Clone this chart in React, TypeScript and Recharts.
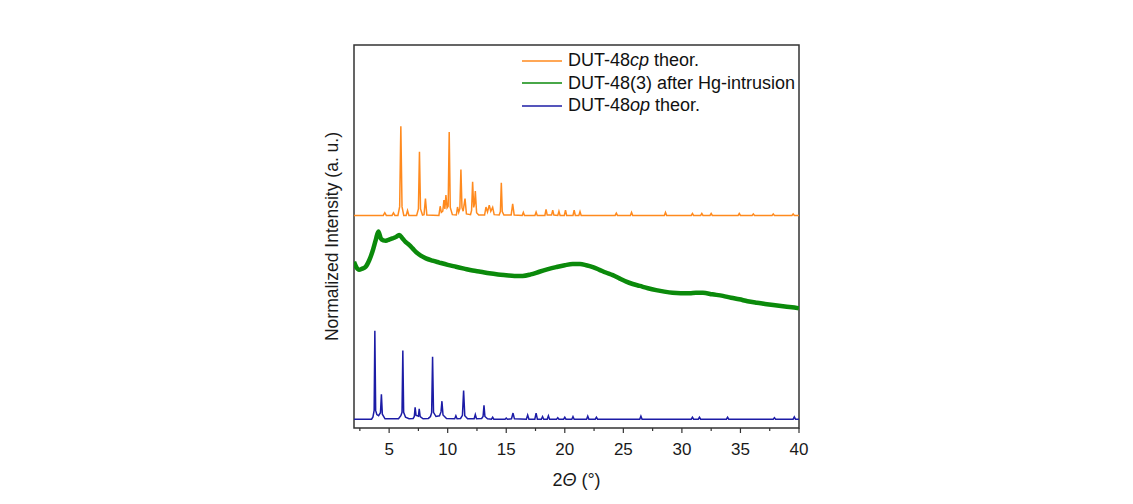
import React from 'react';
import { LineChart, Line, XAxis, YAxis, ReferenceArea, Legend } from 'recharts';

// ---- data (x = 2θ in degrees, y = normalized intensity, offset per pattern, arbitrary units) ----
const xDomain: [number, number] = [2, 40];
const yDomain: [number, number] = [0, 100];
const xTicks = [2.5, 5, 7.5, 10, 12.5, 15, 17.5, 20, 22.5, 25, 27.5, 30, 32.5, 35, 37.5, 40];

const seriesNames = ['DUT-48cp theor.', 'DUT-48(3) after Hg-intrusion', 'DUT-48op theor.'];
const legendParts: string[][] = [
  ['DUT-48', 'cp', ' theor.'],
  ['DUT-48(3) after Hg-intrusion', '', ''],
  ['DUT-48', 'op', ' theor.'],
];
const seriesColors = ['#FF8A1E', '#0B8A0B', '#1C1CA6'];

const cpTheor: [number, number][] = [
  [2, 55.5], [4.5, 55.5], [4.63, 56.2], [4.76, 55.5], [5.25, 55.5], [5.37, 56.2], [5.49, 55.5],
  [5.75, 55.5], [5.9, 57.8], [5.97, 72.9], [6.0, 78.8], [6.1, 57.8], [6.25, 55.5],
  [6.45, 55.5], [6.57, 56.8], [6.69, 55.5],
  [7.35, 55.5], [7.5, 57.2], [7.59, 72.1], [7.68, 57.2], [7.85, 55.6],
  [7.98, 55.7], [8.1, 59.9], [8.22, 55.6],
  [9.25, 55.5], [9.36, 57.9], [9.46, 56.3], [9.58, 56.6], [9.68, 59.5], [9.76, 57.2], [9.85, 60.8],
  [9.95, 57.5], [10.04, 57.9], [10.13, 77.3], [10.22, 57.6], [10.4, 55.7],
  [10.74, 55.6], [10.84, 57.7], [10.94, 56.3], [11.04, 57.3], [11.13, 67.5], [11.22, 57.6],
  [11.32, 56.6], [11.48, 59.9], [11.6, 55.9],
  [11.95, 55.7], [12.04, 56.8], [12.13, 64.3], [12.22, 57.6], [12.29, 58.5], [12.36, 61.9],
  [12.47, 56.2], [12.65, 55.6],
  [13.15, 55.6], [13.27, 57.7], [13.4, 56.4], [13.55, 58.2], [13.68, 56.6], [13.84, 57.6], [13.97, 55.7],
  [14.4, 55.6], [14.5, 56.5], [14.58, 64.0], [14.66, 56.5], [14.8, 55.6],
  [15.42, 55.6], [15.55, 58.5], [15.68, 55.6],
  [16.36, 55.5], [16.46, 56.3], [16.56, 55.5],
  [17.45, 55.5], [17.55, 56.4], [17.65, 55.5],
  [18.3, 55.5], [18.4, 57.1], [18.5, 55.6], [18.87, 55.6], [18.97, 56.9], [19.07, 55.6],
  [19.4, 55.5], [19.5, 56.6], [19.6, 55.5], [19.96, 55.5], [20.06, 56.9], [20.16, 55.5],
  [20.7, 55.5], [20.8, 56.9], [20.9, 55.5], [21.2, 55.5], [21.3, 56.5], [21.4, 55.5],
  [24.3, 55.5], [24.4, 56.1], [24.5, 55.5], [25.6, 55.5], [25.7, 56.3], [25.8, 55.5],
  [28.5, 55.5], [28.6, 56.3], [28.7, 55.5], [30.8, 55.5], [30.9, 56.0], [31.0, 55.5],
  [31.6, 55.5], [31.7, 56.0], [31.8, 55.5], [32.4, 55.5], [32.5, 56.0], [32.6, 55.5],
  [34.8, 55.5], [34.9, 56.0], [35.0, 55.5], [36.0, 55.5], [36.1, 55.9], [36.2, 55.5],
  [37.7, 55.5], [37.8, 55.9], [37.9, 55.5], [39.4, 55.5], [39.5, 55.9], [39.6, 55.5], [40, 55.5],
];

const hgIntrusion: [number, number][] = [
  [2.0, 43.4], [2.2, 42.0], [2.43, 41.3], [2.7, 41.6], [3.0, 42.1], [3.3, 43.8], [3.57, 46.0],
  [3.86, 49.1], [4.08, 51.3], [4.29, 49.5], [4.5, 49.0], [4.72, 48.9], [5.0, 49.2], [5.29, 49.5],
  [5.6, 49.9], [5.86, 50.4], [6.14, 49.5], [6.4, 48.6], [6.71, 47.8], [7.0, 46.9], [7.28, 46.0],
  [7.7, 45.0], [8.14, 44.3], [8.7, 43.7], [9.28, 43.2], [10.0, 42.6], [10.7, 42.1], [11.4, 41.6],
  [12.13, 41.1], [12.8, 40.8], [13.55, 40.4], [14.3, 40.1], [14.98, 39.9], [15.7, 39.7],
  [16.4, 39.7], [17.1, 40.1], [17.83, 40.8], [18.5, 41.4], [19.26, 42.0], [20.0, 42.5],
  [20.68, 42.8], [21.3, 42.8], [21.83, 42.5], [22.4, 42.0], [22.96, 41.3], [23.5, 40.6],
  [24.1, 39.9], [24.7, 39.0], [25.25, 38.2], [25.8, 37.6], [26.4, 37.1], [27.1, 36.5],
  [27.8, 36.0], [28.5, 35.6], [29.2, 35.3], [29.9, 35.2], [30.66, 35.2], [31.2, 35.3],
  [31.8, 35.3], [32.6, 34.9], [33.5, 34.5], [34.2, 34.0], [34.9, 33.6], [35.6, 33.1],
  [36.4, 32.7], [37.1, 32.4], [37.8, 32.1], [38.8, 31.7], [39.9, 31.3], [40.0, 31.2],
];

const opTheor: [number, number][] = [
  [2, 2.3], [3.5, 2.3], [3.62, 2.9], [3.72, 4.6], [3.78, 25.4], [3.85, 4.6], [3.95, 3.5],
  [4.1, 3.2], [4.26, 4.0], [4.34, 8.8], [4.42, 3.6], [4.65, 2.4],
  [5.8, 2.4], [6.0, 3.2], [6.1, 4.1], [6.17, 20.2], [6.24, 4.1], [6.4, 2.8], [6.7, 2.4],
  [7.05, 2.5], [7.15, 3.0], [7.22, 5.4], [7.3, 3.3], [7.42, 3.2], [7.5, 3.1], [7.57, 5.0],
  [7.65, 3.0], [7.9, 2.4],
  [8.35, 2.5], [8.53, 3.0], [8.63, 4.0], [8.71, 18.6], [8.79, 4.1], [9.0, 3.0], [9.3, 3.2],
  [9.43, 4.2], [9.51, 7.0], [9.6, 3.4], [9.9, 2.5],
  [10.6, 2.4], [10.7, 3.2], [10.8, 2.4],
  [11.1, 2.5], [11.26, 3.3], [11.36, 9.8], [11.46, 3.2], [11.7, 2.4],
  [12.26, 2.4], [12.36, 3.5], [12.46, 2.4],
  [12.9, 2.5], [13.02, 3.0], [13.1, 5.9], [13.18, 3.0], [13.4, 2.4],
  [13.74, 2.3], [13.84, 2.8], [13.94, 2.3], [14.9, 2.3], [15.0, 2.6], [15.1, 2.3],
  [15.45, 2.4], [15.58, 3.9], [15.7, 2.4], [16.72, 2.3], [16.83, 3.4], [16.94, 2.3],
  [17.44, 2.3], [17.55, 3.9], [17.66, 2.3], [18.0, 2.3], [18.1, 3.0], [18.2, 2.3],
  [18.5, 2.3], [18.6, 3.2], [18.7, 2.3], [19.3, 2.3], [19.4, 2.7], [19.5, 2.3],
  [19.9, 2.3], [20.0, 2.8], [20.1, 2.3], [20.6, 2.3], [20.7, 3.0], [20.8, 2.3],
  [21.86, 2.3], [21.96, 3.1], [22.06, 2.3], [22.6, 2.3], [22.7, 2.8], [22.8, 2.3],
  [26.4, 2.3], [26.5, 3.1], [26.6, 2.3], [30.8, 2.3], [30.9, 2.8], [31.0, 2.3],
  [31.4, 2.3], [31.5, 2.8], [31.6, 2.3], [33.8, 2.3], [33.9, 2.8], [34.0, 2.3],
  [37.8, 2.3], [37.9, 2.7], [38.0, 2.3], [39.5, 2.3], [39.6, 2.9], [39.7, 2.3], [40, 2.3],
];

const toRows = (arr: [number, number][]) => arr.map(([x, y]) => ({ x, y }));

// ---- layout ----
const W = 1117;
const H = 488;
const PLOT_LEFT = 346;
const PLOT_TOP = 37;
const PLOT_RIGHT = 791;
const PLOT_BOTTOM = 420;
const FONT = '"Liberation Sans", Arial, sans-serif';
const AXIS_COLOR = '#333';
const TEXT_COLOR = '#1a1a1a';

const XTick = (props: any) => {
  const { x, payload } = props;
  const v = payload.value as number;
  const major = v % 5 === 0;
  return (
    <g>
      <line x1={x} x2={x} y1={PLOT_BOTTOM} y2={PLOT_BOTTOM + (major ? 5 : 3)} stroke={AXIS_COLOR} strokeWidth={1.2} />
      {major && (
        <text x={x} y={PLOT_BOTTOM + 27} textAnchor="middle" fontSize={17} fontFamily={FONT} fill={TEXT_COLOR}>
          {v}
        </text>
      )}
    </g>
  );
};

const AxisTitles = () => {
  const cx = 330;
  const cy = (PLOT_TOP + PLOT_BOTTOM) / 2;
  return (
    <g>
      <text x={(PLOT_LEFT + PLOT_RIGHT) / 2} y={478} textAnchor="middle" fontSize={18} fontFamily={FONT} fill={TEXT_COLOR}>
        2<tspan fontStyle="italic">Θ</tspan> (°)
      </text>
      <text x={cx} y={cy} transform={`rotate(-90, ${cx}, ${cy})`} textAnchor="middle" fontSize={17.5} fontFamily={FONT} fill={TEXT_COLOR}>
        Normalized Intensity (a. u.)
      </text>
    </g>
  );
};

const LegendBox = () => (
  <div style={{ fontFamily: FONT, fontSize: 18, color: '#111' }}>
    {legendParts.map((parts, i) => (
      <div key={i} style={{ display: 'flex', alignItems: 'center', height: 22.5, whiteSpace: 'nowrap' }}>
        <svg width={46} height={10} style={{ display: 'block' }}>
          <line x1={0} x2={40} y1={5} y2={5} stroke={seriesColors[i]} strokeWidth={1.6} />
        </svg>
        <span>
          {parts[0]}
          {parts[1] && <i>{parts[1]}</i>}
          {parts[2]}
        </span>
      </div>
    ))}
  </div>
);

export default function App() {
  return (
    <div style={{ width: W, height: H }}>
      <LineChart
        width={W}
        height={H}
        margin={{ top: PLOT_TOP, left: PLOT_LEFT, right: W - PLOT_RIGHT, bottom: H - PLOT_BOTTOM - 30 }}
      >
        <XAxis
          dataKey="x"
          type="number"
          domain={xDomain}
          ticks={xTicks}
          allowDataOverflow
          height={30}
          axisLine={false}
          tickLine={false}
          tick={<XTick />}
          interval={0}
          label={<AxisTitles />}
        />
        <YAxis
          type="number"
          domain={yDomain}
          allowDataOverflow
          width={0}
          tick={false}
          tickLine={false}
          axisLine={false}
        />
        <ReferenceArea
          x1={xDomain[0]}
          x2={xDomain[1]}
          y1={yDomain[0]}
          y2={yDomain[1]}
          fill="none"
          fillOpacity={0}
          stroke={AXIS_COLOR}
          strokeWidth={1.5}
          ifOverflow="visible"
        />
        <Line
          data={toRows(opTheor)}
          dataKey="y"
          name={seriesNames[2]}
          type="linear"
          stroke={seriesColors[2]}
          strokeWidth={1.5}
          dot={false}
          isAnimationActive={false}
        />
        <Line
          data={toRows(hgIntrusion)}
          dataKey="y"
          name={seriesNames[1]}
          type="monotone"
          stroke={seriesColors[1]}
          strokeWidth={4.5}
          dot={false}
          isAnimationActive={false}
        />
        <Line
          data={toRows(cpTheor)}
          dataKey="y"
          name={seriesNames[0]}
          type="linear"
          stroke={seriesColors[0]}
          strokeWidth={1.5}
          dot={false}
          isAnimationActive={false}
        />
        <Legend
          layout="vertical"
          align="center"
          verticalAlign="middle"
          content={<LegendBox />}
          wrapperStyle={{ position: 'absolute', left: 514, top: 41.5, width: 'auto', height: 'auto' }}
        />
      </LineChart>
    </div>
  );
}
